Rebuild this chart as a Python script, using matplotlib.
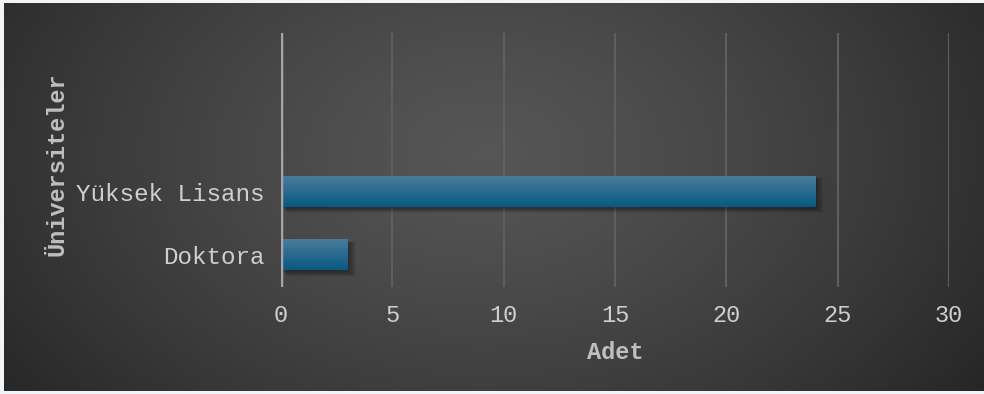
import numpy as np
import matplotlib.pyplot as plt
from matplotlib.patches import Rectangle

# Veriler
kategoriler = ['Doktora', 'Yüksek Lisans']
adetler = [3, 24]
x_ticks = [0, 5, 10, 15, 20, 25, 30]

W, H, DPI = 984, 394, 100
fig = plt.figure(figsize=(W / DPI, H / DPI), dpi=DPI)
fig.patch.set_facecolor('#f2f5f8')

# Koyu, ortasi acik radyal arka plan
bg = fig.add_axes([4 / W, 3 / H, 980 / W, 388 / H])
yy, xx = np.mgrid[0:388, 0:980]
r = np.sqrt(((xx - 480) / 620.0) ** 2 + ((yy - 150) / 420.0) ** 2)
r = np.clip(r, 0, 1)
lum = 0.335 - 0.19 * r ** 1.3
img = np.dstack([lum, lum, lum])
bg.imshow(img, aspect='auto', interpolation='bilinear')
bg.set_axis_off()

font = 'Liberation Mono'
txt_color = '#cfcfcf'
ax = fig.add_axes([281 / W, 1 - 287 / H, (949 - 281) / W, (287 - 33) / H])
ax.patch.set_alpha(0)

ypos = np.arange(len(kategoriler))
bar_h = 0.48

# Cubuklar: yumusak golge + dikey renk gecisi (ust acik, alt koyu)
grad = np.linspace(0, 1, 64).reshape(-1, 1, 1)
top_c = np.array([0x4a, 0x7b, 0x9c]) / 255
bot_c = np.array([0x08, 0x5a, 0x80]) / 255
grad_img = bot_c * (1 - grad) + top_c * grad
for y, v in zip(ypos, adetler):
    for k in range(6):
        d = 0.02 * k
        ax.add_patch(Rectangle((0.05 + d * 2, y - bar_h / 2 - 0.03 - d * 0.6),
                               v + d, bar_h + d * 0.6, facecolor='black',
                               alpha=0.07, linewidth=0, zorder=2))
    ax.imshow(grad_img, extent=(0, v, y - bar_h / 2, y + bar_h / 2),
              aspect='auto', origin='lower', zorder=3)

ax.set_xlim(0, 30)
ax.set_ylim(-0.5, 3.5)
ax.set_xticks(x_ticks)
ax.set_xticklabels([str(t) for t in x_ticks], fontsize=17, family=font,
                   color=txt_color)
ax.set_yticks(ypos)
ax.set_yticklabels(kategoriler, fontsize=17.5, family=font, color=txt_color)
ax.tick_params(length=0)
ax.tick_params(axis='x', pad=12)
ax.tick_params(axis='y', pad=12)

ax.grid(axis='x', color='#5f5f5f', linewidth=1.5, zorder=1)
ax.set_axisbelow(True)
for s in ax.spines.values():
    s.set_visible(False)
ax.axvline(0, color='#a6a6a6', linewidth=2.5, zorder=4)

ax.set_xlabel('Adet', fontsize=17, family=font, fontweight='bold',
              color='#bfbfbf', labelpad=10)
ax.set_ylabel('Üniversiteler', fontsize=17, family=font, fontweight='bold',
              color='#bfbfbf')
ax.yaxis.set_label_coords(-0.318, 0.484)

fig.savefig('out.png', dpi=DPI, facecolor=fig.get_facecolor())
